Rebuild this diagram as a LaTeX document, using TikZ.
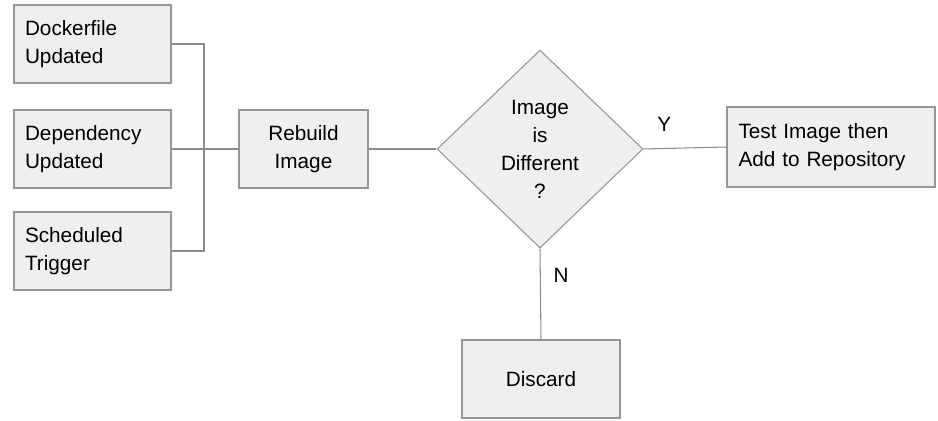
\documentclass[tikz,border=0pt]{standalone}
\usepackage{fontspec}
\setmainfont{Liberation Sans}
\usetikzlibrary{positioning, shapes.geometric}
\definecolor{boxfill}{RGB}{239, 239, 239}
\definecolor{boxline}{RGB}{150, 150, 150}
\definecolor{wire}{RGB}{140, 140, 140}

\begin{document}
\begin{tikzpicture}[x=0.02cm, y=-0.02cm, font=\fontsize{11.8}{15.9}\selectfont,
        box/.style={rectangle, draw=boxline, fill=boxfill, line width=0.6pt,
                    minimum height=1.56cm, inner sep=0pt},
        leftbox/.style={box, text width=2.7cm, minimum width=3.14cm, align=left},
        decision/.style={diamond, draw=boxline, fill=boxfill, line width=0.6pt,
                    minimum width=4.12cm, minimum height=3.96cm, inner sep=0pt, align=center},
        wireline/.style={draw=wire, line width=0.6pt}
    ]
        \useasboundingbox (0,0) rectangle (938,420);

        % triggers
        \node[leftbox] (dock)  at (92.5,44)  {Dockerfile\\Updated};
        \node[leftbox] (dep)   at (92.5,149) {Dependency\\Updated};
        \node[leftbox] (sched) at (92.5,251) {Scheduled\\Trigger};
        \coordinate (bus) at (204,149);

        \node[box, minimum width=2.58cm, align=center] (rebuild) at (303.5,149) {Rebuild\\Image};
        \node[decision] (diff) at (540,149) {Image\\is\\Different\\?};
        \node[box, minimum width=4.16cm, minimum height=1.6cm, text width=3.7cm, align=left] (test) at (831,147) {Test Image then\\Add to Repository};
        \node[box, minimum width=3.16cm, align=center] (discard) at (541,379) {Discard};

        % connectors
        \draw[wireline] (dock.east) -| (bus) |- (sched.east);
        \draw[wireline] (dep.east) -- (rebuild.west);
        \draw[wireline] (rebuild.east) -- (diff.west);
        \draw[wireline] (diff.east) -- (test.west) node[pos=0.25, above=6pt] (yes) {Y};
        \draw[wireline] (diff.south) -- (discard.north) node[pos=0.3, right=4pt] (no) {N};
    \end{tikzpicture}
\end{document}
